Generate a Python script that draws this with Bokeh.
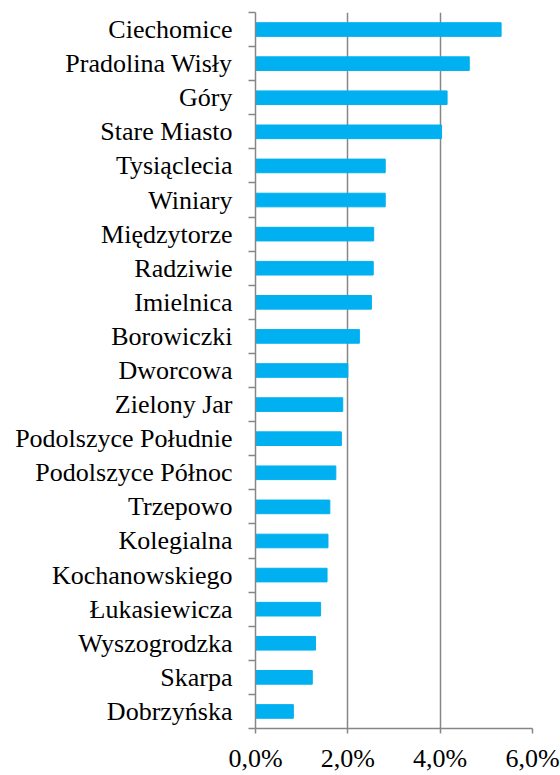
from bokeh.plotting import figure
from bokeh.models import Range1d, FixedTicker
from bokeh.embed import file_html
from bokeh.resources import INLINE

districts = ["Ciechomice", "Pradolina Wisły", "Góry", "Stare Miasto", "Tysiąclecia",
             "Winiary", "Międzytorze", "Radziwie", "Imielnica", "Borowiczki",
             "Dworcowa", "Zielony Jar", "Podolszyce Południe", "Podolszyce Północ",
             "Trzepowo", "Kolegialna", "Kochanowskiego", "Łukasiewicza",
             "Wyszogrodzka", "Skarpa", "Dobrzyńska"]
shares = [5.32, 4.63, 4.15, 4.03, 2.81, 2.81, 2.56, 2.55, 2.51, 2.25,
          2.00, 1.89, 1.86, 1.74, 1.61, 1.57, 1.55, 1.41, 1.30, 1.23, 0.82]
x_ticks = [0, 2, 4, 6]
x_labels = ["0,0%", "2,0%", "4,0%", "6,0%"]

n = len(districts)
ys = [n - 1 - i + 0.5 for i in range(n)]

p = figure(width=560, height=775, output_backend="svg", toolbar_location=None,
           x_range=Range1d(0, 6), y_range=Range1d(0, n),
           min_border_left=255, min_border_right=28, min_border_top=12,
           min_border_bottom=45)
p.outline_line_color = None

p.hbar(y=ys, left=0, right=shares, height=0.4, color="#00B0F0")

GRAY = "#868686"
FONT = "'Liberation Serif', 'Times New Roman', serif"

p.xaxis.ticker = FixedTicker(ticks=x_ticks)
p.xaxis.major_label_overrides = {t: l for t, l in zip(x_ticks, x_labels)}
p.xaxis.axis_line_color = GRAY
p.xaxis.axis_line_width = 1.5
p.xaxis.major_tick_line_color = GRAY
p.xaxis.major_tick_line_width = 1.5
p.xaxis.major_tick_in = 0
p.xaxis.major_tick_out = 5
p.xaxis.minor_tick_line_color = None
p.xaxis.major_label_standoff = 10
p.xaxis.major_label_text_font = FONT
p.xaxis.major_label_text_font_size = "26px"
p.xaxis.major_label_text_color = "black"

p.yaxis.ticker = FixedTicker(ticks=ys, minor_ticks=list(range(n + 1)))
p.yaxis.major_label_overrides = {y: d for y, d in zip(ys, districts)}
p.yaxis.axis_line_color = GRAY
p.yaxis.axis_line_width = 1.5
p.yaxis.major_tick_line_color = None
p.yaxis.major_tick_in = 0
p.yaxis.major_tick_out = 7
p.yaxis.minor_tick_line_color = GRAY
p.yaxis.minor_tick_line_width = 1.5
p.yaxis.minor_tick_in = 0
p.yaxis.minor_tick_out = 7
p.yaxis.major_label_standoff = 16
p.yaxis.major_label_text_font = FONT
p.yaxis.major_label_text_font_size = "26px"
p.yaxis.major_label_text_color = "black"

p.xgrid.ticker = FixedTicker(ticks=x_ticks)
p.xgrid.grid_line_color = GRAY
p.xgrid.grid_line_width = 1.5
p.ygrid.grid_line_color = None

open("out.html", "w").write(file_html(p, INLINE))
